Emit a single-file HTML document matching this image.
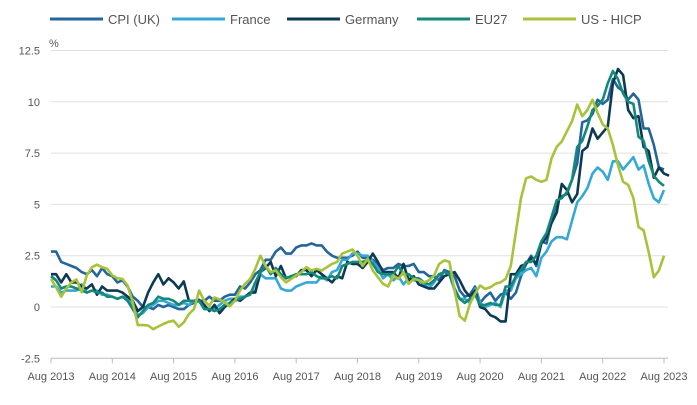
<!DOCTYPE html>
<html><head><meta charset="utf-8"><style>
body{margin:0;background:#fff;font-family:"Liberation Sans",sans-serif}
svg{display:block}
text{font-family:"Liberation Sans",sans-serif}
</style></head><body>
<svg id="chart" width="697" height="405" viewBox="0 0 697 405"></svg>
<script>
const startYear=2013;
const xTickLabels=["Aug 2013","Aug 2014","Aug 2015","Aug 2016","Aug 2017","Aug 2018","Aug 2019","Aug 2020","Aug 2021","Aug 2022","Aug 2023"];
const yTicks=[-2.5,0,2.5,5,7.5,10,12.5];
const yTickLabels=["-2.5","0","2.5","5","7.5","10","12.5"];
const seriesNames=["CPI (UK)","France","Germany","EU27","US - HICP"];
const ukValues=[2.7,2.7,2.2,2.1,2.0,1.9,1.7,1.6,1.8,1.5,1.9,1.6,1.5,1.2,1.3,1.0,0.5,0.3,0.0,0.0,-0.1,0.1,0.0,0.1,0.0,-0.1,-0.1,0.1,0.2,0.3,0.3,0.5,0.3,0.3,0.5,0.6,0.6,1.0,0.9,1.2,1.6,1.8,2.3,2.3,2.7,2.9,2.6,2.6,2.9,3.0,3.0,3.1,3.0,3.0,2.7,2.5,2.4,2.4,2.4,2.5,2.7,2.4,2.4,2.3,2.1,1.8,1.9,1.9,2.1,2.0,2.0,2.1,1.7,1.7,1.5,1.5,1.3,1.8,1.7,1.5,0.8,0.5,0.6,1.0,0.2,0.5,0.7,0.3,0.6,0.7,0.4,0.7,1.5,2.1,2.5,2.0,3.2,3.1,4.2,5.1,5.4,5.5,6.2,7.0,9.0,9.1,9.4,10.1,9.9,10.1,11.1,10.7,10.5,10.1,10.4,10.1,8.7,8.7,7.9,6.8,6.7];
const franceValues=[1.0,1.0,0.7,0.8,0.8,0.8,1.1,0.7,0.8,0.8,0.6,0.6,0.5,0.4,0.5,0.4,0.1,-0.4,-0.3,0.0,0.1,0.3,0.3,0.2,0.1,0.1,0.2,0.1,0.3,0.3,-0.1,-0.1,-0.1,0.1,0.3,0.4,0.4,0.5,0.5,0.7,0.8,1.6,1.4,1.4,1.4,0.9,0.8,0.8,1.0,1.1,1.2,1.2,1.2,1.5,1.3,1.7,1.8,2.3,2.3,2.6,2.6,2.5,2.5,2.2,1.9,1.4,1.6,1.3,1.5,1.1,1.4,1.3,1.3,1.1,0.9,1.2,1.6,1.7,1.6,0.8,0.4,0.4,0.2,0.9,0.2,0.0,0.1,0.2,0.0,0.8,0.8,1.4,1.6,1.8,1.9,1.5,2.4,2.7,3.2,3.4,3.4,3.3,4.2,5.1,5.4,5.8,6.5,6.8,6.6,6.2,7.1,7.1,6.7,7.0,7.3,6.7,6.9,6.0,5.3,5.1,5.7];
const germanyValues=[1.6,1.6,1.2,1.6,1.2,1.2,1.0,0.9,1.1,0.6,1.0,0.8,0.8,0.8,0.7,0.5,0.3,-0.2,0.0,0.7,1.2,1.6,1.1,1.4,1.2,0.9,1.25,0.3,0.3,0.35,0.1,-0.2,0.1,-0.3,0.0,0.2,0.4,0.3,0.5,0.7,0.7,1.7,1.9,2.2,1.5,2.0,1.4,1.5,1.5,1.8,1.8,1.5,1.8,1.6,1.4,1.2,1.5,1.4,2.2,2.1,2.1,1.9,2.2,2.6,2.2,1.7,1.7,1.7,1.4,2.1,1.3,1.5,1.1,1.0,0.9,0.9,1.2,1.5,1.6,1.7,1.3,0.8,0.5,0.8,0.0,-0.1,-0.4,-0.5,-0.7,-0.7,1.6,1.6,2.0,2.1,2.4,2.1,3.1,3.4,4.1,4.6,6.0,5.7,5.1,5.5,7.6,7.8,8.7,8.2,8.5,8.8,10.9,11.6,11.3,9.6,9.2,9.3,7.8,7.6,6.3,6.8,6.5,6.4];
const eu27Values=[1.5,1.3,0.9,1.0,1.0,0.9,0.8,0.7,0.8,0.7,0.7,0.5,0.5,0.4,0.5,0.3,-0.1,-0.5,-0.2,0.1,0.2,0.5,0.4,0.4,0.3,0.1,0.3,0.3,0.3,0.3,-0.1,-0.1,-0.2,-0.1,0.1,0.2,0.3,0.4,0.5,0.6,1.2,1.7,2.0,1.6,1.9,1.6,1.4,1.5,1.6,1.6,1.6,1.7,1.5,1.4,1.4,1.5,1.4,2.0,2.1,2.2,2.2,2.2,2.3,2.1,1.7,1.6,1.6,1.6,2.0,1.6,1.6,1.4,1.4,1.2,1.1,1.3,1.6,1.7,1.6,0.9,0.4,0.2,0.4,0.6,0.1,0.1,0.2,0.1,0.1,1.0,1.0,1.5,1.8,2.2,2.2,2.5,3.2,3.6,4.4,5.2,5.3,5.6,6.2,7.8,8.1,8.8,9.6,9.8,10.1,10.9,11.5,11.1,10.4,10.0,9.9,8.3,8.1,7.1,6.4,6.1,5.9];
const usValues=[1.37,0.96,0.5,0.9,1.2,1.34,0.72,1.54,1.94,2.06,1.94,1.86,1.54,1.4,1.37,1.05,0.23,-0.88,-0.88,-0.9,-1.08,-0.95,-0.83,-0.72,-0.67,-0.96,-0.75,-0.34,-0.1,0.8,0.3,0.06,0.47,0.36,0.23,0.03,0.3,0.8,1.13,1.37,1.86,2.5,2.0,1.7,1.78,1.45,1.2,1.37,1.54,1.7,1.94,1.78,1.86,1.78,1.94,2.1,2.2,2.6,2.7,2.8,2.5,2.0,2.35,1.78,1.45,1.13,1.0,1.54,1.37,1.7,1.13,1.37,1.3,1.2,1.3,1.54,2.1,2.27,2.2,0.8,-0.45,-0.67,0.15,0.65,1.05,0.88,0.96,1.13,1.2,1.37,2.0,3.66,5.3,6.27,6.36,6.2,6.1,6.2,7.25,7.8,8.07,8.56,9.05,9.87,9.3,9.6,10.1,9.46,8.9,8.7,7.9,6.9,6.1,5.95,5.3,3.9,3.74,2.68,1.45,1.78,2.5];
const allSeries=[ukValues,franceValues,germanyValues,eu27Values,usValues];
const colors=["#25669a","#35a8d6","#0d3a52","#14897a","#a8c23a"];
const NS="http://www.w3.org/2000/svg";
const svg=document.getElementById('chart');
const X0=51,X1=664,Y0=307,PER=51.3/2.5;
function xScale(i){return X0+i*(X1-X0)/120;}
function yScale(v){return Y0-v*PER;}
function mk(tag,attrs,parent){const e=document.createElementNS(NS,tag);for(const k in attrs)e.setAttribute(k,attrs[k]);(parent||svg).appendChild(e);return e;}
yTicks.forEach((t,k)=>{
  const g=mk('line',{x1:X0,x2:668,y1:yScale(t),y2:yScale(t),stroke:t===-2.5?'#bbb':'#e0e0e0','stroke-width':1});
  
  
  const tx=mk('text',{x:40,y:yScale(t)+4,'text-anchor':'end','font-size':11,fill:'#555'});
  tx.textContent=yTickLabels[k];
  
  
});
const pct=mk('text',{x:49,y:47,'font-size':11,fill:'#555'});pct.textContent='%';


xTickLabels.forEach((l,k)=>{
  const x=xScale(k*12);
  const tk=mk('line',{x1:x,x2:x,y1:yScale(-2.5),y2:yScale(-2.5)+5,stroke:'#bbb'});
  
  
  const tx=mk('text',{x:x,y:380,'text-anchor':'middle','font-size':11,fill:'#555'});
  tx.textContent=l;
  
  
});
allSeries.forEach((s,k)=>{
  const d=s.map((v,i)=>(i?'L':'M')+xScale(i).toFixed(1)+','+yScale(v).toFixed(1)).join('');
  const p=mk('path',{d:d,fill:'none',stroke:colors[k],'stroke-width':2.6,'stroke-linejoin':'round'});
  
  
});
const legX=[50,172,287,417,523];
seriesNames.forEach((n,k)=>{
  const g=mk('g',{});
  
  
  mk('line',{x1:legX[k],x2:legX[k]+53,y1:19,y2:19,stroke:colors[k],'stroke-width':3},g);
  const t=mk('text',{x:legX[k]+58,y:24,'font-size':13,fill:'#555'},g);
  t.textContent=n;
});
</script>
</body></html>
